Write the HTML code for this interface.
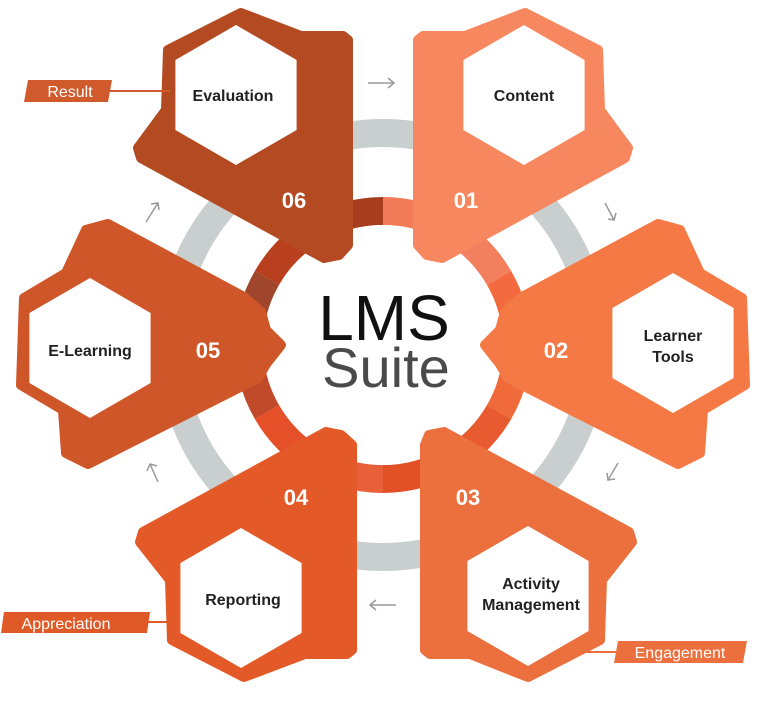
<!DOCTYPE html>
<html><head><meta charset="utf-8"><style>
html,body{margin:0;padding:0;background:#fff;}
svg{display:block;}
.lbl{font-family:"Liberation Sans",sans-serif;font-weight:bold;font-size:16px;fill:#222;text-anchor:middle;}
.num{font-family:"Liberation Sans",sans-serif;font-weight:bold;font-size:22px;fill:#fff;text-anchor:middle;}
.tag{font-family:"Liberation Sans",sans-serif;font-size:16px;fill:#fff;text-anchor:middle;}
</style></head><body>
<svg width="768" height="702" viewBox="0 0 768 702" xmlns="http://www.w3.org/2000/svg">
<defs>
<polygon id="hex" points="0,-70 60.6,-35 60.6,35 0,70 -60.6,35 -60.6,-35"/>
</defs>
<!-- grey ring -->
<circle cx="383" cy="345" r="212" fill="none" stroke="#c9cece" stroke-width="28"/>
<!-- colored ring sectors -->
<g fill="none" stroke-width="28">
<circle cx="383" cy="345" r="134" stroke="#a63d1e" stroke-dasharray="70.2 771.8" transform="rotate(240 383 345)"/>
<circle cx="383" cy="345" r="134" stroke="#f27b5a" stroke-dasharray="70.2 771.8" transform="rotate(270 383 345)"/>
<circle cx="383" cy="345" r="134" stroke="#f2805e" stroke-dasharray="70.2 771.8" transform="rotate(300 383 345)"/>
<circle cx="383" cy="345" r="134" stroke="#f26a3e" stroke-dasharray="70.2 771.8" transform="rotate(330 383 345)"/>
<circle cx="383" cy="345" r="134" stroke="#f06a3a" stroke-dasharray="70.2 771.8" transform="rotate(0 383 345)"/>
<circle cx="383" cy="345" r="134" stroke="#e85a30" stroke-dasharray="70.2 771.8" transform="rotate(30 383 345)"/>
<circle cx="383" cy="345" r="134" stroke="#e25026" stroke-dasharray="70.2 771.8" transform="rotate(60 383 345)"/>
<circle cx="383" cy="345" r="134" stroke="#e8603a" stroke-dasharray="70.2 771.8" transform="rotate(90 383 345)"/>
<circle cx="383" cy="345" r="134" stroke="#e55028" stroke-dasharray="70.2 771.8" transform="rotate(120 383 345)"/>
<circle cx="383" cy="345" r="134" stroke="#c04a2a" stroke-dasharray="70.2 771.8" transform="rotate(150 383 345)"/>
<circle cx="383" cy="345" r="134" stroke="#a0462c" stroke-dasharray="70.2 771.8" transform="rotate(180 383 345)"/>
<circle cx="383" cy="345" r="134" stroke="#b8401e" stroke-dasharray="70.2 771.8" transform="rotate(210 383 345)"/>
</g>
<circle cx="383" cy="345" r="120" fill="#fff"/>
<!-- segments -->
<g stroke-linejoin="round" stroke-width="10">
<polygon fill="#f7875e" stroke="#f7875e" points="418,40 423,36 465,36 525,13 598,50 600,110 628,148 625,158 442,258 427,255 418,245"/>
<polygon fill="#b34a22" stroke="#b34a22" points="348,40 343,36 301,36 241,13 168,50 166,110 138,148 141,158 324,258 339,255 348,245"/>
<polygon fill="#f57944" stroke="#f57944" points="522,297 658,224 680,230 700,273 742,298 745,385 703,410 700,453 678,464 508,378 500,364 485,345 500,330 505,312"/>
<polygon fill="#cf5628" stroke="#cf5628" points="244,297 108,224 86,230 66,273 24,298 21,385 63,410 66,453 88,464 258,378 266,364 281,345 266,330 261,312"/>
<polygon fill="#ec6f3e" stroke="#ec6f3e" points="425,650 430,654 470,654 528,677 600,640 602,580 632,542 629,532 444,432 429,435 425,445"/>
<polygon fill="#e35a28" stroke="#e35a28" points="352,650 347,654 305,654 244,677 172,640 170,580 140,542 143,532 326,432 341,435 352,445"/>
</g>
<!-- hexes -->
<use href="#hex" transform="translate(524,95)" fill="#fff"/>
<use href="#hex" transform="translate(236,95)" fill="#fff"/>
<use href="#hex" transform="translate(673,343)" fill="#fff"/>
<use href="#hex" transform="translate(90,348)" fill="#fff"/>
<use href="#hex" transform="translate(528,596)" fill="#fff"/>
<use href="#hex" transform="translate(241,598)" fill="#fff"/>
<!-- labels -->
<text class="lbl" x="233" y="101">Evaluation</text>
<text class="lbl" x="524" y="101">Content</text>
<text class="lbl" x="673" y="341">Learner</text>
<text class="lbl" x="673" y="362">Tools</text>
<text class="lbl" x="90" y="356">E-Learning</text>
<text class="lbl" x="243" y="605">Reporting</text>
<text class="lbl" x="531" y="589">Activity</text>
<text class="lbl" x="531" y="610">Management</text>
<!-- numbers -->
<text class="num" x="294" y="208">06</text>
<text class="num" x="466" y="208">01</text>
<text class="num" x="556" y="358">02</text>
<text class="num" x="208" y="358">05</text>
<text class="num" x="296" y="505">04</text>
<text class="num" x="468" y="505">03</text>
<!-- center -->
<text x="384" y="340" font-family="Liberation Sans,sans-serif" font-size="64" fill="#111" text-anchor="middle">LMS</text>
<text x="386" y="387" font-family="Liberation Sans,sans-serif" font-size="56" fill="#4a4a4a" text-anchor="middle">Suite</text>
<!-- tags -->
<line x1="108" y1="91" x2="170" y2="91" stroke="#d15a2c" stroke-width="2"/>
<polygon points="28,80 112,80 108,102 24,102" fill="#d15a2c"/>
<text class="tag" x="70" y="97">Result</text>
<line x1="145" y1="622" x2="178" y2="622" stroke="#e05a28" stroke-width="2"/>
<polygon points="4,612 150,612 147,633 1,633" fill="#e05a28"/>
<text class="tag" x="66" y="629">Appreciation</text>
<line x1="580" y1="652" x2="620" y2="652" stroke="#ec6f3e" stroke-width="2"/>
<polygon points="618,641 747,641 743,663 614,663" fill="#ec6f3e"/>
<text class="tag" x="680" y="658">Engagement</text>
<!-- arrows -->
<g stroke="#999" stroke-width="1.5" fill="none">
<path d="M368,83 H394 M388,78 L394,83 L388,88"/>
<path d="M605,203 L614,220 M608,219 L614,220 L616,213"/>
<path d="M618,463 L608,480 M607,473 L608,480 L615,479"/>
<path d="M396,605 H370 M376,600 L370,605 L376,610"/>
<path d="M158,482 L150,464 M147,471 L150,464 L157,466"/>
<path d="M146,222 L158,203 M151,204 L158,203 L159,210"/>
</g>
</svg>
</body></html>
